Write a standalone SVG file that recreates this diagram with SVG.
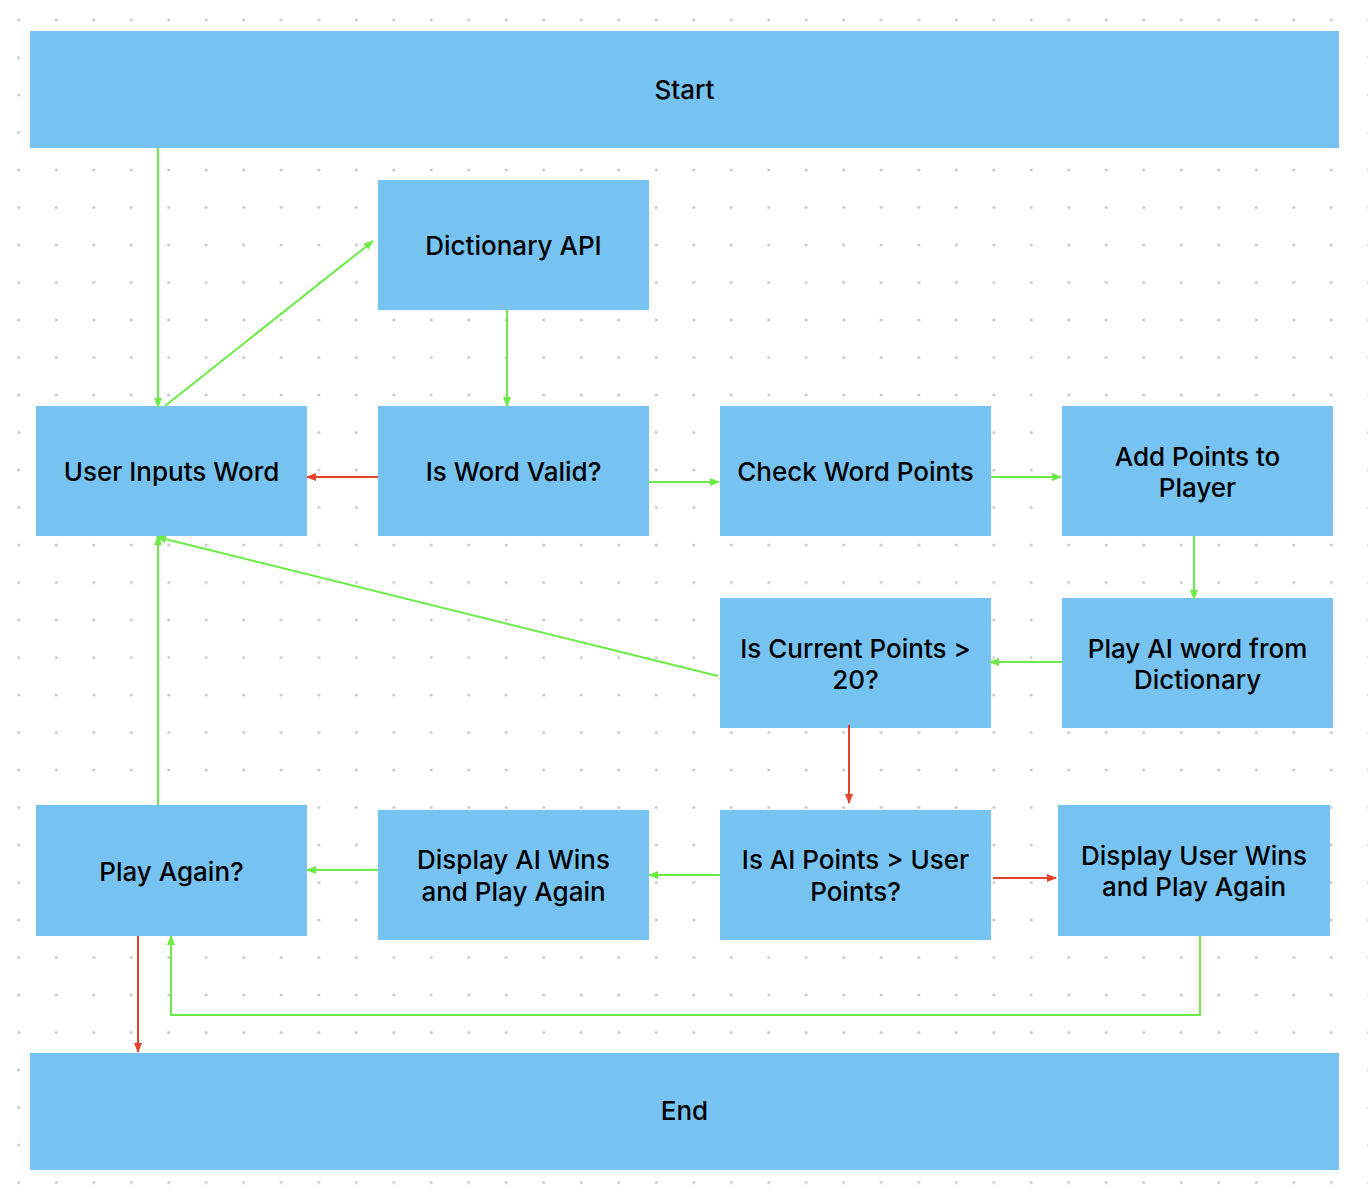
<svg xmlns="http://www.w3.org/2000/svg" width="1368" height="1194" viewBox="0 0 1368 1194">
<defs>
<pattern id="dots" x="18.75" y="20" width="37.5" height="37.5" patternUnits="userSpaceOnUse">
<circle cx="0" cy="0" r="1.6" fill="#c9c9c9"/><circle cx="37.5" cy="0" r="1.6" fill="#c9c9c9"/><circle cx="0" cy="37.5" r="1.6" fill="#c9c9c9"/><circle cx="37.5" cy="37.5" r="1.6" fill="#c9c9c9"/>
</pattern>
<marker id="ag" markerUnits="userSpaceOnUse" markerWidth="10" markerHeight="10" viewBox="0 0 10 10" refX="9" refY="5" orient="auto"><path d="M0,1 L10,5 L0,9 Z" fill="#6ceb46"/></marker>
<marker id="ar" markerUnits="userSpaceOnUse" markerWidth="10" markerHeight="10" viewBox="0 0 10 10" refX="9" refY="5" orient="auto"><path d="M0,1 L10,5 L0,9 Z" fill="#e8412a"/></marker>
</defs>
<style>
.n{fill:#76c2f0}
.t{font-family:Inter,"Noto Sans","Liberation Sans",sans-serif;font-size:26px;font-weight:500;fill:#000;text-anchor:middle}
.g{stroke:#6ceb46;stroke-width:2;fill:none;marker-end:url(#ag)}
.r{stroke:#e8412a;stroke-width:2;fill:none;marker-end:url(#ar)}
</style>
<rect width="1368" height="1194" fill="#fff"/>
<rect width="1368" height="1194" fill="url(#dots)"/>
<g id="start"><rect class="n" x="30" y="31" width="1309" height="117"/><text class="t" x="684.5" y="99">Start</text></g>
<g id="dict"><rect class="n" x="378" y="180" width="271" height="130"/><text class="t" x="513.5" y="255">Dictionary API</text></g>
<g id="user"><rect class="n" x="36" y="406" width="271" height="130"/><text class="t" x="171.5" y="481">User Inputs Word</text></g>
<g id="valid"><rect class="n" x="378" y="406" width="271" height="130"/><text class="t" x="513.5" y="481">Is Word Valid?</text></g>
<g id="check"><rect class="n" x="720" y="406" width="271" height="130"/><text class="t" x="855.5" y="481">Check Word Points</text></g>
<g id="add"><rect class="n" x="1062" y="406" width="271" height="130"/><text class="t" x="1197.5" y="466">Add Points to</text><text class="t" x="1197.5" y="497">Player</text></g>
<g id="cur"><rect class="n" x="720" y="598" width="271" height="130"/><text class="t" x="855.5" y="658">Is Current Points &gt;</text><text class="t" x="855.5" y="689">20?</text></g>
<g id="ai"><rect class="n" x="1062" y="598" width="271" height="130"/><text class="t" x="1197.5" y="658">Play AI word from</text><text class="t" x="1197.5" y="689">Dictionary</text></g>
<g id="again"><rect class="n" x="36" y="805" width="271" height="131"/><text class="t" x="171.5" y="881">Play Again?</text></g>
<g id="aiwins"><rect class="n" x="378" y="810" width="271" height="130"/><text class="t" x="513.5" y="869">Display AI Wins</text><text class="t" x="513.5" y="901">and Play Again</text></g>
<g id="aipts"><rect class="n" x="720" y="810" width="271" height="130"/><text class="t" x="855.5" y="869">Is AI Points &gt; User</text><text class="t" x="855.5" y="901">Points?</text></g>
<g id="userwins"><rect class="n" x="1058" y="805" width="272" height="131"/><text class="t" x="1194" y="865">Display User Wins</text><text class="t" x="1194" y="896">and Play Again</text></g>
<g id="end"><rect class="n" x="30" y="1053" width="1309" height="117"/><text class="t" x="684.5" y="1120">End</text></g>
<g id="connectors">
<path class="g" d="M158,148 V407"/>
<path class="g" d="M165,406 L373,241"/>
<path class="g" d="M507,310 V406"/>
<path class="r" d="M378,477 H307"/>
<path class="g" d="M649,482 H719"/>
<path class="g" d="M991,477 H1061"/>
<path class="g" d="M1194,536 V599"/>
<path class="g" d="M1062,662 H990"/>
<path class="g" d="M718,676 L157,537"/>
<path class="r" d="M849,725 V803"/>
<path class="g" d="M720,875 H649"/>
<path class="r" d="M993,878 H1056"/>
<path class="g" d="M378,870 H307"/>
<path class="g" d="M158,805 V536"/>
<path class="r" d="M138,936 V1052"/>
<path class="g" d="M1200,936 V1015 H171 V936"/>
</g>
</svg>
